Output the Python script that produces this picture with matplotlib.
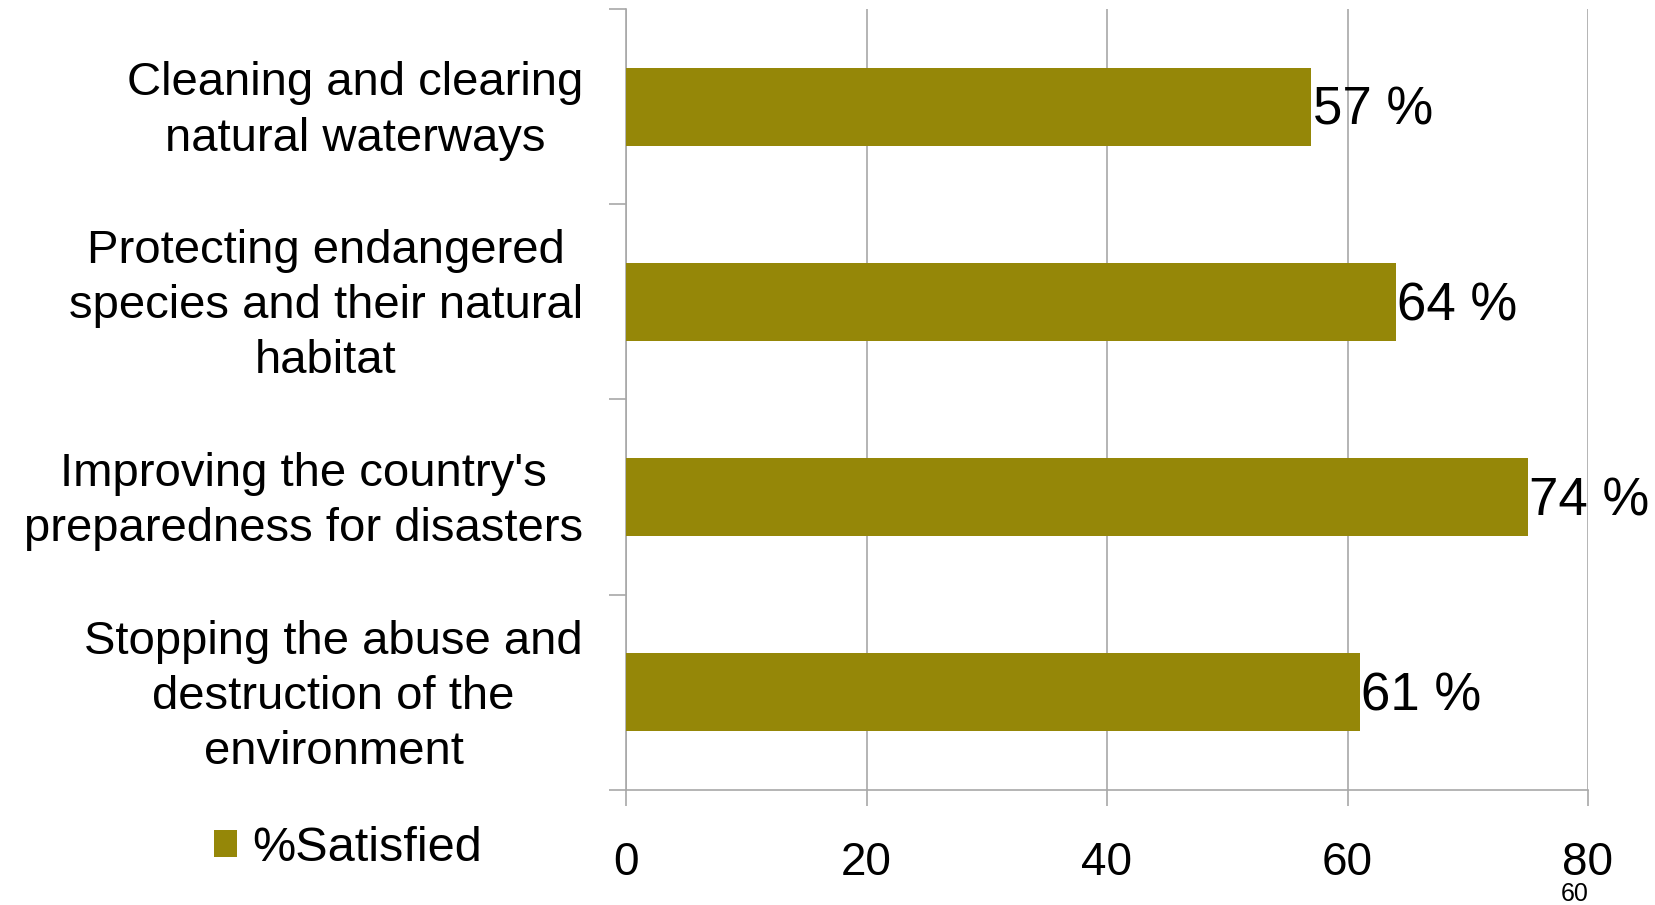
import matplotlib
matplotlib.use("Agg")
import matplotlib.pyplot as plt
import matplotlib.transforms as mtransforms

plt.rcParams['font.family'] = ['Liberation Sans', 'DejaVu Sans']

# data
categories = [
    "Cleaning and clearing\nnatural waterways",
    "Protecting endangered\nspecies and their natural\nhabitat",
    "Improving the country's\npreparedness for disasters",
    "Stopping the abuse and\ndestruction of the\nenvironment",
]
satisfied = [57, 64, 75, 61]
value_labels = ["57 %", "64 %", "74 %", "61 %"]
x_ticks = [0, 20, 40, 60, 80]
series_name = "%Satisfied"
page_number = "60"

bar_color = '#958708'
grid_color = '#a8a8a8'

fig = plt.figure(figsize=(16.55, 9.05), dpi=100)
ax = fig.add_axes([626 / 1655, 1 - 790 / 905, (1588 - 626) / 1655, (790 - 9) / 905])

pos = list(range(len(categories)))
bars = ax.barh(pos, satisfied, height=0.4, color=bar_color, label=series_name, zorder=3)
for p, v, lbl in zip(pos, satisfied, value_labels):
    ax.annotate(lbl, xy=(v, p), xytext=(1, -3), textcoords='offset points',
                ha='left', va='center', fontsize=38)

ax.set_xlim(0, 80)
ax.set_ylim(len(categories) - 0.5, -0.5)

# x axis
ax.set_xticks(x_ticks)
ax.set_xticklabels([str(t) for t in x_ticks])
ax.tick_params(axis='x', direction='out', length=11.5, width=1.2, color=grid_color,
               labelsize=33, pad=25)
ax.grid(axis='x', color=grid_color, linewidth=1.2, zorder=0)

# y axis: ticks at category boundaries, labels at centres
ax.set_yticks([p - 0.5 for p in pos] + [len(pos) - 0.5])
ax.set_yticklabels([])
ax.set_yticks(pos, minor=True)
ax.set_yticklabels(categories, minor=True, fontsize=34, multialignment='center',
                   linespacing=1.33)
ax.tick_params(axis='y', which='major', direction='out', length=12, width=1.2, color=grid_color)
ax.tick_params(axis='y', which='minor', length=0, pad=31)

# nudge category labels up a little
shift = mtransforms.ScaledTranslation(0, 4.5 / 72, fig.dpi_scale_trans)
for lbl in ax.get_yticklabels(minor=True):
    lbl.set_transform(lbl.get_transform() + shift)

for side in ['top', 'right']:
    ax.spines[side].set_visible(False)
for side in ['left', 'bottom']:
    ax.spines[side].set_color(grid_color)
    ax.spines[side].set_linewidth(1.2)

ax.legend(loc='center left', bbox_to_anchor=(214 / 1655, 1 - 848 / 905),
          bbox_transform=fig.transFigure, frameon=False, fontsize=35,
          handlelength=0.48, handleheight=0.48, handletextpad=0.3, borderpad=0,
          borderaxespad=0)

fig.text(1575 / 1655, 1 - 894 / 905, page_number, fontsize=18, ha='center', va='center')

fig.savefig('out.png', dpi=100, facecolor='white')
